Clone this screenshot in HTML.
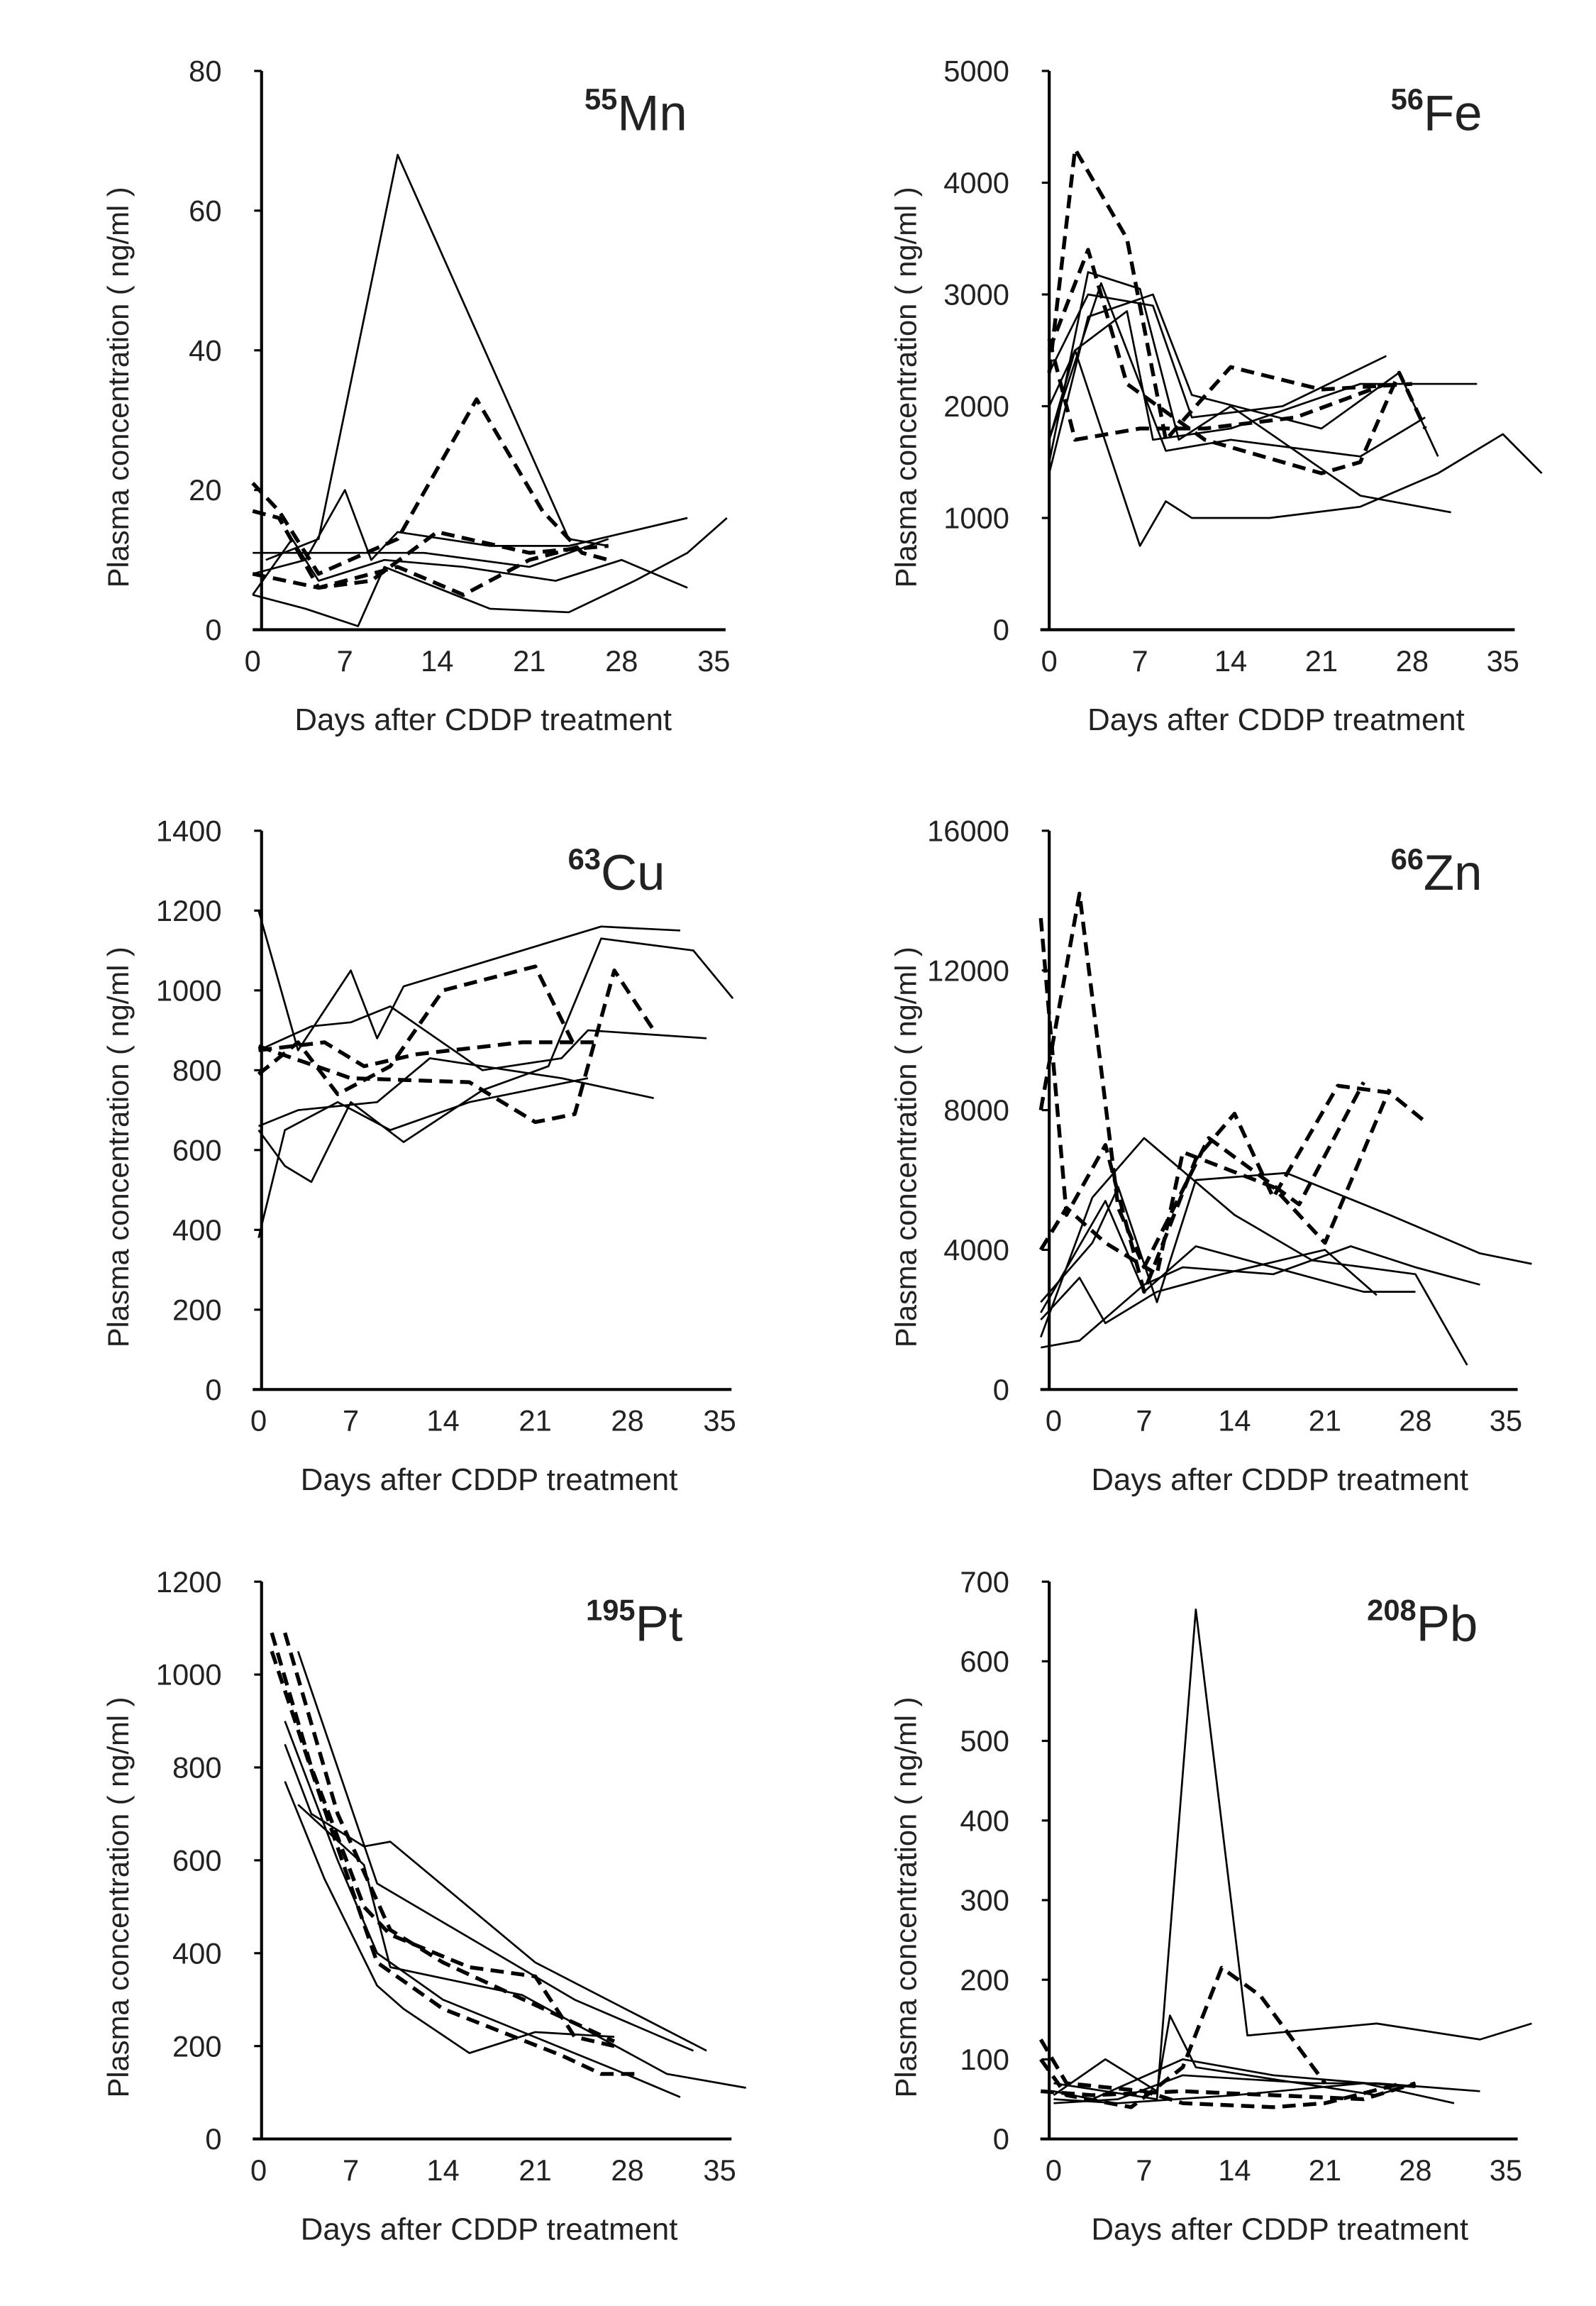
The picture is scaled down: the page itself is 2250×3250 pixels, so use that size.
<!DOCTYPE html>
<html><head><meta charset="utf-8">
<style>
html,body{margin:0;padding:0;background:#fff;}
svg{display:block;}
text{font-family:"Liberation Sans",Arial,sans-serif;fill:#222;}
</style></head>
<body>
<svg id="fig" width="2250" height="3250" viewBox="0 0 1080 1560" xmlns="http://www.w3.org/2000/svg"></svg>
<script>
// ---- Data (days, values) per panel ----
const mnSolidDays=[[1,5,11,24,27],[0,4,8,10,18,24,29,33,36],[0,4,7,9,11,18,24,33],[0,3,5,10,16,23,28,33],[0,7,13,21,27]];
const mnSolidVals=[[10,13,68,13,12],[5,3,0.5,9,3,2.5,7,11,16],[8,10,20,10,14,12,12,16],[5,13,7,10,9,7,10,6],[11,11,11,9,13]];
const mnDashDays=[[0,2,5,11,17,22,25,27],[0,2,5,11,16,21,25],[0,5,9,14,21,27]];
const mnDashVals=[[21,17,8,13,33,17,11,10],[17,16,6,9,5,10,12],[8,6,7,14,11,12]];

const feSolidDays=[[0,3,7,10,14,24,31],[0,3,8,11,21,27,30],[0,2,6,8,14,24,33],[0,2,7,9,11,17,24,30,35,38],[0,3,8,11,18,26],[0,4,9,14,24,29]];
const feSolidVals=[[1500,3200,3050,1700,2000,1200,1050],[1400,2800,3000,2100,1800,2300,1550],[1700,2500,2850,1700,1800,2200,2200],[2000,2500,750,1150,1000,1000,1100,1400,1750,1400],[2300,3000,2900,1900,2000,2450],[1700,3100,1600,1700,1550,1900]];
const feDashDays=[[0,2,6,9,14,21,28],[0,3,6,12,21,24,27,29],[0,2,7,12,19,26]];
const feDashVals=[[2300,4300,3500,1700,2350,2150,2200],[2500,3400,2200,1700,1400,1500,2300,1800],[2600,1700,1800,1800,1900,2200]];

const cuSolidDays=[[0,3,7,9,11,22,26,32],[0,2,6,10,16,25],[0,2,4,7,11,17,22,26,33,36],[0,3,9,13,23,30],[0,4,7,10,17,23,25,34]];
const cuSolidVals=[[1200,850,1050,880,1010,1120,1160,1150],[380,650,720,650,720,780],[650,560,520,720,620,750,810,1130,1100,980],[660,700,720,830,780,730],[850,910,920,960,800,830,900,880]];
const cuDashDays=[[0,3,6,10,14,21,24],[0,5,8,12,20,26],[0,7,16,21,24,27,30]];
const cuDashVals=[[790,870,740,810,1000,1060,860],[850,870,810,840,870,870],[860,780,770,670,690,1050,900]];

const znSolidDays=[[-1,2,7,10,17,23,28,33],[-1,2,4,8,13,21,25],[-1,3,7,14,20,28,32],[-1,3,5,8,11,18,26,33,37],[-1,4,7,11,24,28]];
const znSolidVals=[[1200,1400,3000,3500,3300,4100,3500,3000],[2000,3200,1900,2800,3300,4000,2700],[1500,5500,7200,5000,3700,3300,700],[2500,4200,5800,2500,6000,6200,5000,3900,3600],[2200,5400,2800,4100,2800,2800]];
const znDashDays=[[-1,1,4,7,11,14,17,22,26,29],[-1,2,5,7,12,19,24],[-1,1,4,8,10,17,21,26]];
const znDashVals=[[13500,5000,7000,2800,6600,7900,5500,8700,8500,7600],[8000,14200,5200,3500,7200,5300,8800],[4000,5200,4200,3300,6800,5800,4200,8600]];

const ptSolidDays=[[2,5,9,11,16,21,27],[2,4,8,10,21,34],[3,8,10,20,31,37],[2,6,9,14,27,32],[3,9,24,33]];
const ptSolidVals=[[770,560,330,280,185,230,220],[850,700,630,640,380,190],[720,590,370,310,140,110],[900,600,400,300,150,90],[1050,550,300,190]];
const ptDashDays=[[1,4,8,10,16,21,24,27],[2,6,10,14,27],[1,5,9,14,23,26,29]];
const ptDashVals=[[1090,800,500,440,370,350,220,200],[1090,700,450,380,210],[1050,710,380,280,180,140,140]];

const pbSolidDays=[[0,4,8,11,15,25,33,37],[0,4,8,9,11,25,28],[0,5,10,20,25,33],[0,3,10,17,28],[0,5,14,24,31]];
const pbSolidVals=[[70,60,50,665,130,145,125,145],[55,100,60,155,90,55,70],[45,50,80,70,70,60],[60,50,100,80,65],[50,45,55,70,45]];
const pbDashDays=[[-1,1,6,10,13,16,21],[-1,1,7,10,17,21,27],[-1,3,10,17,24,28]];
const pbDashVals=[[100,55,40,90,215,180,70],[125,70,60,45,40,45,70],[60,55,60,55,50,70]];

const xTicks=[0,7,14,21,28,35];
const mnYTicks=[0,20,40,60,80];
const feYTicks=[0,1000,2000,3000,4000,5000];
const cuYTicks=[0,200,400,600,800,1000,1200,1400];
const znYTicks=[0,4000,8000,12000,16000];
const ptYTicks=[0,200,400,600,800,1000,1200];
const pbYTicks=[0,100,200,300,400,500,600,700];

const panels=[
 {name:'mn',iso:'55',el:'Mn',ax:177,top:48,bot:426,ymax:80,x0:171,x35:483,yt:mnYTicks,sd:mnSolidDays,sv:mnSolidVals,dd:mnDashDays,dv:mnDashVals,tx:465},
 {name:'fe',iso:'56',el:'Fe',ax:710,top:48,bot:426,ymax:5000,x0:710,x35:1017,yt:feYTicks,sd:feSolidDays,sv:feSolidVals,dd:feDashDays,dv:feDashVals,tx:1003},
 {name:'cu',iso:'63',el:'Cu',ax:177,top:562,bot:940,ymax:1400,x0:175,x35:487,yt:cuYTicks,sd:cuSolidDays,sv:cuSolidVals,dd:cuDashDays,dv:cuDashVals,tx:450},
 {name:'zn',iso:'66',el:'Zn',ax:710,top:562,bot:940,ymax:16000,x0:713,x35:1019,yt:znYTicks,sd:znSolidDays,sv:znSolidVals,dd:znDashDays,dv:znDashVals,tx:1003},
 {name:'pt',iso:'195',el:'Pt',ax:177,top:1070,bot:1447,ymax:1200,x0:175,x35:487,yt:ptYTicks,sd:ptSolidDays,sv:ptSolidVals,dd:ptDashDays,dv:ptDashVals,tx:462},
 {name:'pb',iso:'208',el:'Pb',ax:710,top:1070,bot:1447,ymax:700,x0:713,x35:1019,yt:pbYTicks,sd:pbSolidDays,sv:pbSolidVals,dd:pbDashDays,dv:pbDashVals,tx:1000}
];

const NS='http://www.w3.org/2000/svg';
const svg=document.getElementById('fig');
function mk(tag,attrs,parent){const e=document.createElementNS(NS,tag);for(const k in attrs)e.setAttribute(k,attrs[k]);(parent||svg).appendChild(e);return e;}

panels.forEach(p=>{
 const g=mk('g',{});
 
 
 const xs=d=>p.x0+d*(p.x35-p.x0)/35;
 const ys=v=>p.bot-v*(p.bot-p.top)/p.ymax;
 const ya=mk('line',{x1:p.ax,y1:p.top,x2:p.ax,y2:p.bot,stroke:'#000','stroke-width':2},g);
 
 
 const xa=mk('line',{x1:p.ax-6,y1:p.bot,x2:p.x35+8,y2:p.bot,stroke:'#000','stroke-width':2},g);
 
 
 p.yt.forEach(v=>{
  mk('line',{x1:p.ax-5,y1:ys(v),x2:p.ax,y2:ys(v),stroke:'#000','stroke-width':1.5},g);
  const t=mk('text',{x:p.ax-27,y:ys(v)+7,'text-anchor':'end','font-size':20},g);
  t.textContent=v;
  
  
 });
 xTicks.forEach(d=>{
  const t=mk('text',{x:xs(d),y:p.bot+28,'text-anchor':'middle','font-size':20},g);
  t.textContent=d;
  
  
 });
 const xt=mk('text',{x:(p.x0+p.x35)/2,y:p.bot+68,'text-anchor':'middle','font-size':21},g);
 xt.textContent='Days after CDDP treatment';
 
 
 const yx=p.ax-90, yc=(p.top+p.bot)/2+25;
 const yl=mk('text',{x:yx,y:yc,'text-anchor':'middle','font-size':20,transform:`rotate(-90 ${yx} ${yc})`},g);
 yl.textContent='Plasma concentration ( ng/ml )';
 
 
 const tt=mk('text',{x:p.tx,y:p.top+40,'text-anchor':'end','font-size':34},g);
 const s1=mk('tspan',{'font-size':20,'font-weight':'bold',dy:-14},tt);s1.textContent=p.iso;
 const s2=mk('tspan',{dy:14},tt);s2.textContent=p.el;
 
 
 const draw=(days,vals,dash,label)=>{
  days.forEach((ds,i)=>{
   const pts=ds.map((d,j)=>xs(d).toFixed(1)+','+ys(vals[i][j]).toFixed(1)).join(' ');
   const pl=mk('polyline',{points:pts,fill:'none',stroke:'#000','stroke-width':dash?2.6:1.3,'stroke-dasharray':dash?'9,5':'none','stroke-linejoin':'round'},g);
   
   
  });
 };
 draw(p.sd,p.sv,false,'solid-series');
 draw(p.dd,p.dv,true,'dashed-series');
});
</script>
</body></html>
